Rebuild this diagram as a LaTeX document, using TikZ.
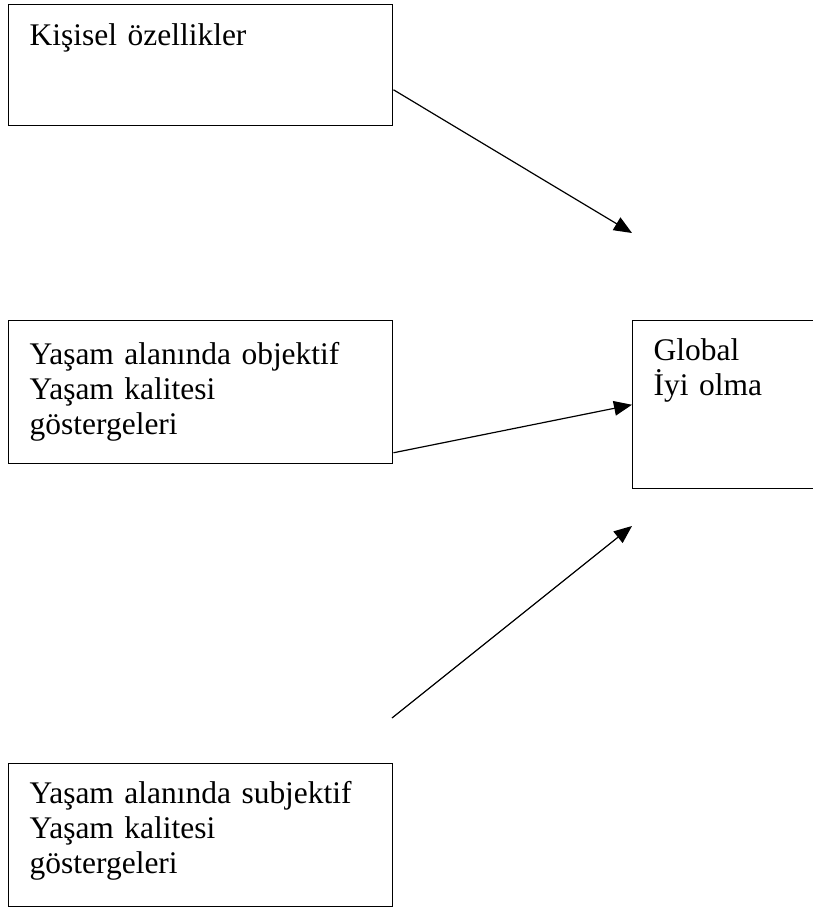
\documentclass[tikz,border=0pt]{standalone}
\usepackage{fontspec}
\setmainfont{Liberation Serif}
\usetikzlibrary{arrows.meta}

\tikzset{
    kutu/.style={draw, line width=1.1pt, anchor=north west, inner xsep=15.75pt, inner ysep=0pt,
        text width=256.5pt, align=left, font=\fontsize{23.6pt}{26.25pt}\selectfont},
    ok/.style={line width=0.9pt, -{Triangle[length=13.5pt,width=11pt]}}
}

\begin{document}
\begin{tikzpicture}[x=0.75pt, y=-0.75pt]
            \useasboundingbox (0,0) rectangle (813,907);

            \node[kutu, text height=30.75pt, text depth=60pt] (kisisel) at (8,4) {Kişisel özellikler};
            \node[kutu, text height=33pt, text depth=74.25pt] (objektif) at (8,320)
                {Yaşam alanında objektif\\Yaşam kalitesi\\göstergeleri};
            \node[kutu, text width=150pt, text height=30pt, text depth=96pt] (global) at (632,320)
                {Global\\İyi olma};
            \node[kutu, text height=30pt, text depth=77.25pt] (subjektif) at (8,763)
                {Yaşam alanında subjektif\\Yaşam kalitesi\\göstergeleri};

            \coordinate (uc1) at (632,233);
            \coordinate (bas3) at (392,718);
            \coordinate (uc3) at (632,526);

            \draw[ok] ([yshift=-18.4pt]kisisel.east) -- (uc1);
            \draw[ok] ([yshift=-45.4pt]objektif.east) -- (global.west);
            \draw[ok] (bas3) -- (uc3);
        \end{tikzpicture}
\end{document}
